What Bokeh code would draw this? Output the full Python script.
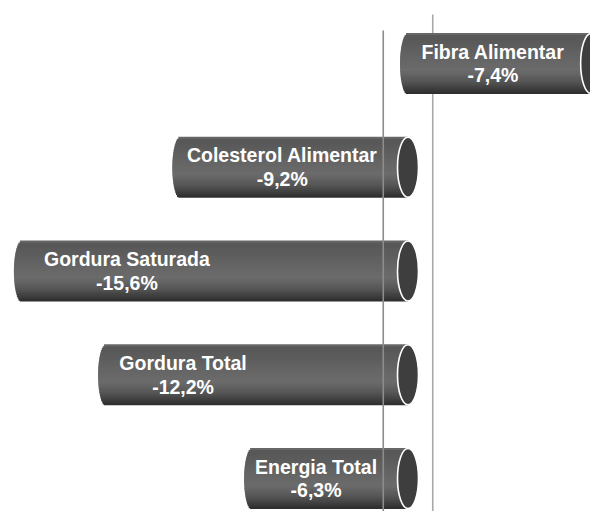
import numpy as np
from bokeh.plotting import figure
from bokeh.models import ColumnDataSource, Range1d
from bokeh.embed import file_html
from bokeh.resources import INLINE
from bokeh.core.properties import value

# ---- data -------------------------------------------------------------
categories = ["Energia Total", "Gordura Total", "Gordura Saturada",
              "Colesterol Alimentar", "Fibra Alimentar"]
changes = [-6.3, -12.2, -15.6, -9.2, -7.4]          # % change shown in labels
direction = [-1, -1, -1, -1, 1]                      # side the bar is drawn on
ref_lines = [-1.0, 1.0]                              # the two vertical guide lines

# ---- layout / style constants ----------------------------------------
W, H = 590, 511
PXU = 24.75                      # pixels per percentage point
ZERO_PX = 407.5
X0, X1 = -ZERO_PX / PXU, (W - ZERO_PX) / PXU
Y0, Y1 = -0.318, 4.607
px_x = W / (X1 - X0)
bar_h = 0.588
bulge_px = 8
cap_w, cap_h = 21, 60
label_off_px = [64, 77, 105, 102, 85]   # text centre from bar body start
line_tops = [4.318, 4.472]
line_colors = ["#8c8c8c", "#a8a8a8"]

p = figure(width=W, height=H, x_range=Range1d(X0, X1), y_range=Range1d(Y0, Y1),
           output_backend="svg", toolbar_location=None, min_border=0)
p.axis.visible = False
p.grid.visible = False
p.outline_line_color = None
p.background_fill_color = "white"
p.border_fill_color = "white"

# right guide line (behind bars)
p.segment(x0=[ref_lines[1]], y0=[Y0], x1=[ref_lines[1]], y1=[line_tops[1]],
          line_color=line_colors[1], line_width=1.6)

# gradient profile for cylinder body (0 = top edge, 1 = bottom edge)
prof_t = [0.0, 0.04, 0.1, 0.5, 0.62, 0.8, 0.92, 1.0]
prof_v = [0x70, 0x58, 0x58, 0x68, 0x6b, 0x55, 0x3c, 0x2c]
N = 32

lefts, rights, tops, bottoms, colors = [], [], [], [], []
caps_x, caps_y = [], []
lab_x, lab_y, lab_t = [], [], []
for i, (c, d) in enumerate(zip(changes, direction)):
    v = d * abs(c)
    lo, hi = min(0.0, v), max(0.0, v)
    yc = i
    for k in range(N):
        t = (k + 0.5) / N
        s = 2 * t - 1
        top = yc + bar_h / 2 - k * bar_h / N
        lefts.append(lo - bulge_px / px_x * np.sqrt(max(0.0, 1 - s * s)))
        rights.append(hi)
        tops.append(top)
        bot = top - bar_h / N
        if k < N - 1:
            bot -= 0.6 * bar_h / N   # overlap next strip to avoid seams
        bottoms.append(bot)
        g = int(round(np.interp(t, prof_t, prof_v)))
        colors.append("#%02x%02x%02x" % (g, g, g))
    caps_x.append(hi)
    caps_y.append(yc)
    lab_x.append(lo + label_off_px[i] / px_x)
    lab_y.append(yc)
    lab_t.append(categories[i] + "\n" + ("%.1f%%" % c).replace(".", ","))

body = ColumnDataSource(dict(left=lefts, right=rights, top=tops, bottom=bottoms, color=colors))
p.quad(left="left", right="right", top="top", bottom="bottom", fill_color="color",
       line_color=None, source=body)

p.ellipse(x=caps_x, y=caps_y, width=cap_w, height=cap_h, width_units="screen",
          height_units="screen", fill_color="#3e3e3e", line_color="white", line_width=1.6)

# left guide line (drawn over bars)
p.segment(x0=[ref_lines[0]], y0=[Y0], x1=[ref_lines[0]], y1=[line_tops[0]],
          line_color=line_colors[0], line_width=1.6)

p.text(x=lab_x, y=lab_y, text=lab_t, text_align="center", text_baseline="middle",
       text_color="white", text_font=value("Liberation Sans"), text_font_style="bold",
       text_font_size="19.5px", text_line_height=1.08)

open("out.html", "w").write(file_html(p, INLINE))
